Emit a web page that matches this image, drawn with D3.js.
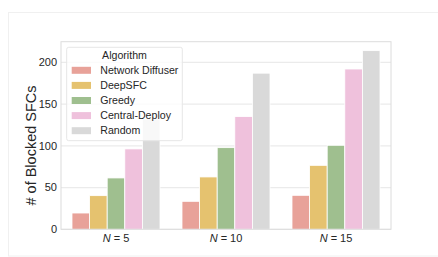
<!DOCTYPE html>
<html>
<head>
<meta charset="utf-8">
<script src="https://cdn.jsdelivr.net/npm/d3@7"></script>
<style>
  body { margin: 0; background: #fff; }
  text { font-family: "Liberation Sans", Arial, sans-serif; fill: #262626; }
</style>
</head>
<body>
<div id="chart"></div>
<script>
// data
var groups = ["5", "10", "15"];
var algorithms = ["Network Diffuser", "DeepSFC", "Greedy", "Central-Deploy", "Random"];
var colors = ["#e8a299", "#e5c26f", "#9fbf8f", "#efc1dc", "#d9d9d9"];
var values = [
  [19.5, 33.5, 40.7],   // Network Diffuser
  [40.3, 62.7, 76.6],   // DeepSFC
  [61.5, 97.8, 100.6],  // Greedy
  [96.3, 135, 192],     // Central-Deploy
  [132, 187, 214]       // Random
];
var yTicks = [0, 50, 100, 150, 200];

var W = 438, H = 257;
var plotL = 61, plotR = 391, plotT = 41.7, plotB = 229.3;

var svg = d3.select("#chart").append("svg")
  .attr("width", W)
  .attr("height", H);

// faint outer frame
svg.append("rect")
  .attr("x", 8.5).attr("y", 12.5)
  .attr("width", W + 10).attr("height", 243.5)
  .attr("fill", "none").attr("stroke", "#f0f0f0");

var x = d3.scaleBand().domain(groups).range([plotL, plotR]).paddingInner(0).paddingOuter(0);
var xs = d3.scaleBand().domain(algorithms).range([0, x.bandwidth() * 0.8]);
var y = d3.scaleLinear().domain([0, 224.7]).range([plotB, plotT]);

// grid
svg.append("g").selectAll("line")
  .data(yTicks).enter().append("line")
  .attr("x1", plotL).attr("x2", plotR)
  .attr("y1", function(d) {return y(d);}).attr("y2", function(d) {return y(d);})
  .attr("stroke", "#ebebeb").attr("stroke-width", 1.2);

// bars
var gbar = svg.append("g").selectAll("g.algo")
  .data(algorithms).enter().append("g")
  .attr("class", "algo")
  .attr("fill", function(d, i) {return colors[i];});

gbar.selectAll("rect")
  .data(function(d, i) {return values[i].map(function(v, j) {return {algo: d, group: groups[j], v: v};});})
  .enter().append("rect")
  .attr("x", function(d) {return x(d.group) + x.bandwidth() * 0.1 + xs(d.algo);})
  .attr("y", function(d) {return y(d.v);})
  .attr("width", xs.bandwidth())
  .attr("height", function(d) {return y(0) - y(d.v);})
  .attr("stroke", "#fff").attr("stroke-width", 0.8);

// plot frame
svg.append("rect")
  .attr("x", plotL).attr("y", plotT)
  .attr("width", plotR - plotL).attr("height", plotB - plotT)
  .attr("fill", "none").attr("stroke", "#dcdcdc").attr("stroke-width", 1);

// y tick labels
svg.append("g").selectAll("text")
  .data(yTicks).enter().append("text")
  .attr("x", plotL - 4).attr("y", function(d) {return y(d);})
  .attr("dy", "0.35em").attr("text-anchor", "end")
  .attr("font-size", 11)
  .text(function(d) {return d;});

// x tick labels
var xt = svg.append("g").selectAll("text")
  .data(groups).enter().append("text")
  .attr("x", function(d) {return x(d) + x.bandwidth() / 2;})
  .attr("y", 242).attr("text-anchor", "middle")
  .attr("font-size", 11);
xt.append("tspan").attr("font-style", "italic").text("N");
xt.append("tspan").text(function(d) {return " = " + d;});

// y axis title
svg.append("text")
  .attr("transform", "translate(36," + ((plotT + plotB) / 2 + 10) + ") rotate(-90)")
  .attr("text-anchor", "middle")
  .attr("font-size", 14.5)
  .text("# of Blocked SFCs");

// legend
var lg = svg.append("g").attr("transform", "translate(66.7,47.3)");
lg.append("rect")
  .attr("width", 115.6).attr("height", 93.4).attr("rx", 2)
  .attr("fill", "#fff").attr("fill-opacity", 0.8)
  .attr("stroke", "#e6e6e6");
lg.append("text")
  .attr("x", 57.8).attr("y", 11.8)
  .attr("text-anchor", "middle").attr("font-size", 10.6)
  .text("Algorithm");
var li = lg.selectAll("g.item")
  .data(algorithms).enter().append("g")
  .attr("class", "item")
  .attr("transform", function(d, i) {return "translate(5," + (23 + i * 15.1) + ")";});
li.append("rect")
  .attr("x", 0).attr("y", -3.5).attr("width", 19.3).attr("height", 7)
  .attr("fill", function(d, i) {return colors[i];});
li.append("text")
  .attr("x", 28.6).attr("dy", "0.35em")
  .attr("font-size", 10.6)
  .text(function(d) {return d;});
</script>
</body>
</html>
